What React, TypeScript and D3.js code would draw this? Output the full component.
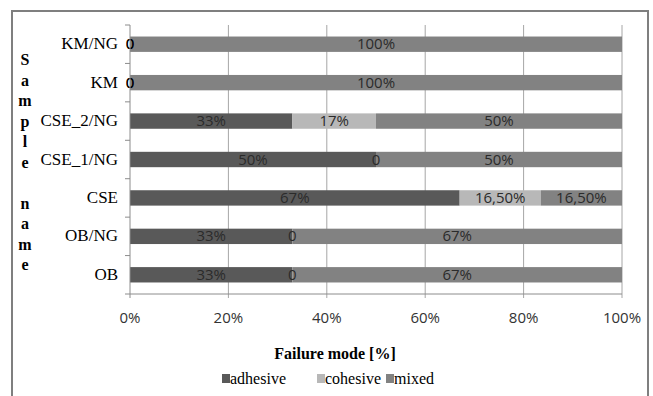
import React, { useEffect, useRef } from 'react';
import * as d3 from 'd3';

const categories = ['KM/NG', 'KM', 'CSE_2/NG', 'CSE_1/NG', 'CSE', 'OB/NG', 'OB'];
const adhesive = [0, 0, 33, 50, 67, 33, 33];
const cohesive = [0, 0, 17, 0, 16.5, 0, 0];
const mixed = [100, 100, 50, 50, 16.5, 67, 67];
const seriesNames = ['adhesive', 'cohesive', 'mixed'];
const xTicks = [0, 20, 40, 60, 80, 100];

const colors = ['#595959', '#b8b8b8', '#828282'];

function fmt(v: number) {
  if (v === 0) return '0';
  if (Number.isInteger(v)) return v + '%';
  return v.toFixed(2).replace('.', ',') + '%';
}

export default function App() {
  const ref = useRef<SVGSVGElement>(null);

  useEffect(() => {
    const width = 653;
    const height = 396;
    const left = 130, right = 622, top = 25, bottom = 294;

    const svg = d3.select(ref.current);
    svg.selectAll('*').remove();

    // outer frame
    svg.append('rect')
      .attr('x', 12).attr('y', 11)
      .attr('width', 636).attr('height', height + 20)
      .attr('fill', 'white')
      .attr('stroke', '#7f7f7f')
      .attr('stroke-width', 2);

    const x = d3.scaleLinear().domain([0, 100]).range([left, right]);
    const y = d3.scaleBand().domain(categories).range([top, bottom]).paddingInner(0.6).paddingOuter(0.3);
    const band = d3.scaleBand().domain(categories).range([top, bottom]);

    // gridlines
    svg.append('g')
      .selectAll('line')
      .data(xTicks.slice(1))
      .enter()
      .append('line')
      .attr('x1', d => x(d)).attr('x2', d => x(d))
      .attr('y1', top).attr('y2', bottom + 4)
      .attr('stroke', '#a6a6a6');

    // bars
    const rows = categories.map((c, i) => ({ cat: c, vals: [adhesive[i], cohesive[i], mixed[i]] }));
    const segs: { cat: string; s: number; x0: number; v: number }[] = [];
    rows.forEach(r => {
      let acc = 0;
      r.vals.forEach((v, s) => {
        segs.push({ cat: r.cat, s, x0: acc, v });
        acc += v;
      });
    });

    svg.append('g')
      .selectAll('rect')
      .data(segs)
      .enter()
      .append('rect')
      .attr('x', d => x(d.x0))
      .attr('y', d => y(d.cat)!)
      .attr('width', d => x(d.x0 + d.v) - x(d.x0))
      .attr('height', y.bandwidth())
      .attr('fill', d => colors[d.s]);

    svg.append('g')
      .selectAll('text')
      .data(segs)
      .enter()
      .append('text')
      .attr('x', d => x(d.x0 + d.v / 2))
      .attr('y', d => y(d.cat)! + y.bandwidth() / 2 + 5)
      .attr('text-anchor', 'middle')
      .style('font-family', '"Open Sans", sans-serif')
      .style('font-size', '15px')
      .attr('fill', d => (d.v === 0 && d.x0 === 0 ? '#000' : '#2b2b2b'))
      .text(d => fmt(d.v));

    // axes
    svg.append('line')
      .attr('x1', left).attr('x2', left).attr('y1', top).attr('y2', bottom + 4)
      .attr('stroke', '#8c8c8c');
    svg.append('line')
      .attr('x1', left).attr('x2', right).attr('y1', bottom).attr('y2', bottom)
      .attr('stroke', '#8c8c8c');

    // y ticks at category boundaries
    const bounds = categories.map(c => band(c)!).concat([bottom]);
    svg.append('g')
      .selectAll('line')
      .data(bounds)
      .enter()
      .append('line')
      .attr('x1', left - 5).attr('x2', left)
      .attr('y1', d => d).attr('y2', d => d)
      .attr('stroke', '#8c8c8c');

    // category labels
    svg.append('g')
      .selectAll('text')
      .data(categories)
      .enter()
      .append('text')
      .attr('x', 118)
      .attr('y', d => band(d)! + band.bandwidth() / 2 + 5)
      .attr('text-anchor', 'end')
      .style('font-family', '"Liberation Serif", serif')
      .style('font-size', '17px')
      .attr('fill', '#000')
      .text(d => d);

    // x tick labels
    svg.append('g')
      .selectAll('text')
      .data(xTicks)
      .enter()
      .append('text')
      .attr('x', d => x(d))
      .attr('y', bottom + 29)
      .attr('text-anchor', 'middle')
      .style('font-family', '"Open Sans", sans-serif')
      .style('font-size', '15px')
      .attr('fill', '#333')
      .text(d => d + '%');

    // x title
    svg.append('text')
      .attr('x', 335)
      .attr('y', 359)
      .attr('text-anchor', 'middle')
      .style('font-family', '"Liberation Serif", serif')
      .style('font-size', '16px')
      .style('font-weight', 'bold')
      .text('Failure mode [%]');

    // y title, stacked letters
    const letters = 'Sample name'.split('');
    svg.append('g')
      .selectAll('text')
      .data(letters)
      .enter()
      .append('text')
      .attr('x', 25)
      .attr('y', (d, i) => 65 + i * 20.5)
      .attr('text-anchor', 'middle')
      .style('font-family', '"Liberation Serif", serif')
      .style('font-size', '16px')
      .style('font-weight', 'bold')
      .text(d => d);

    // legend
    const legendX = [222, 317, 386];
    const legend = svg.append('g')
      .selectAll('g')
      .data(seriesNames)
      .enter()
      .append('g')
      .attr('transform', (d, i) => 'translate(' + legendX[i] + ',384)');
    legend.append('rect')
      .attr('x', 0).attr('y', -10)
      .attr('width', 8).attr('height', 9)
      .attr('fill', (d, i) => colors[i]);
    legend.append('text')
      .attr('x', 8)
      .attr('y', 0)
      .style('font-family', '"Liberation Serif", serif')
      .style('font-size', '16px')
      .text(d => d);

    svg.attr('width', width).attr('height', height);
  }, []);

  return (
    <svg
      ref={ref}
      width={653}
      height={396}
      style={{ position: 'absolute', left: 0, top: 0, background: 'white' }}
    />
  );
}
